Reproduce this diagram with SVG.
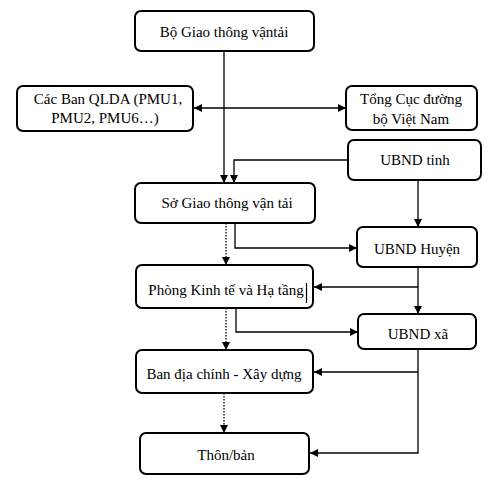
<svg xmlns="http://www.w3.org/2000/svg" width="496" height="496" viewBox="0 0 496 496">
<style>
.box{fill:#fff;stroke:#000;stroke-width:2}
.t{font-size:15px;fill:#000;text-anchor:middle}
.c{fill:none;stroke:#000;stroke-width:1.3}
.d{fill:none;stroke:#000;stroke-width:1.3;stroke-dasharray:1.5 1.5}
</style>
<defs>
<marker id="a" viewBox="0 0 10 10" refX="10" refY="5" markerWidth="8" markerHeight="8" markerUnits="userSpaceOnUse" orient="auto-start-reverse">
<path d="M0,0 L10,5 L0,10 Z" fill="#000"/>
</marker>
</defs>
<rect width="496" height="496" fill="#fff"/>
<g id="connectors">
<path class="c" d="M224,51 V183" marker-end="url(#a)"/>
<path class="c" d="M194,108 H346" marker-start="url(#a)" marker-end="url(#a)"/>
<path class="c" d="M348,160 H234 V183" marker-end="url(#a)"/>
<path class="c" d="M418,180 V227" marker-end="url(#a)"/>
<path class="c" d="M235,223 V248 H357" marker-end="url(#a)"/>
<path class="d" d="M226,223 V265" marker-end="url(#a)"/>
<path class="c" d="M418,267 V314" marker-end="url(#a)"/>
<path class="c" d="M418,287 H314" marker-end="url(#a)"/>
<path class="c" d="M236,308 V332 H358" marker-end="url(#a)"/>
<path class="d" d="M226,308 V350" marker-end="url(#a)"/>
<path class="c" d="M418,349 V453 H310" marker-end="url(#a)"/>
<path class="c" d="M418,372 H314" marker-end="url(#a)"/>
<path class="d" d="M224,393 V433" marker-end="url(#a)"/>
</g>
<g font-family="Liberation Serif, Times New Roman, serif">
<g id="bo-gtvt"><rect class="box" x="135" y="11" width="179" height="40" rx="6"/><text class="t" x="224" y="37">Bộ Giao thông vậntải</text></g>
<g id="ban-qlda"><rect class="box" x="17" y="86" width="176" height="45" rx="6"/><text class="t" x="108" y="104">Các Ban QLDA (PMU1,</text><text class="t" x="105" y="123">PMU2, PMU6…)</text></g>
<g id="tong-cuc"><rect class="box" x="346" y="86" width="131" height="44" rx="6"/><text class="t" x="411" y="104">Tổng Cục đường</text><text class="t" x="411" y="124">bộ Việt Nam</text></g>
<g id="ubnd-tinh"><rect class="box" x="348" y="140" width="133" height="40" rx="6"/><text class="t" x="415" y="165">UBND tỉnh</text></g>
<g id="so-gtvt"><rect class="box" x="135" y="183" width="180" height="40" rx="6"/><text class="t" x="227" y="208">Sở Giao thông vận tải</text></g>
<g id="ubnd-huyen"><rect class="box" x="357" y="227" width="120" height="40" rx="6"/><text class="t" x="417" y="254">UBND Huyện</text></g>
<g id="phong-kt"><rect class="box" x="136" y="265" width="177" height="43" rx="6"/><text class="t" x="226" y="295">Phòng Kinh tế và Hạ tầng</text><line x1="306.5" y1="283" x2="306.5" y2="303" stroke="#000" stroke-width="1.2"/></g>
<g id="ubnd-xa"><rect class="box" x="358" y="314" width="118" height="35" rx="6"/><text class="t" x="418" y="339">UBND xã</text></g>
<g id="ban-dc"><rect class="box" x="136" y="350" width="177" height="43" rx="6"/><text class="t" x="224" y="379">Ban địa chính - Xây dựng</text></g>
<g id="thon-ban"><rect class="box" x="140" y="433" width="169" height="41" rx="6"/><text class="t" x="226" y="460">Thôn/bản</text></g>
</g>
</svg>
